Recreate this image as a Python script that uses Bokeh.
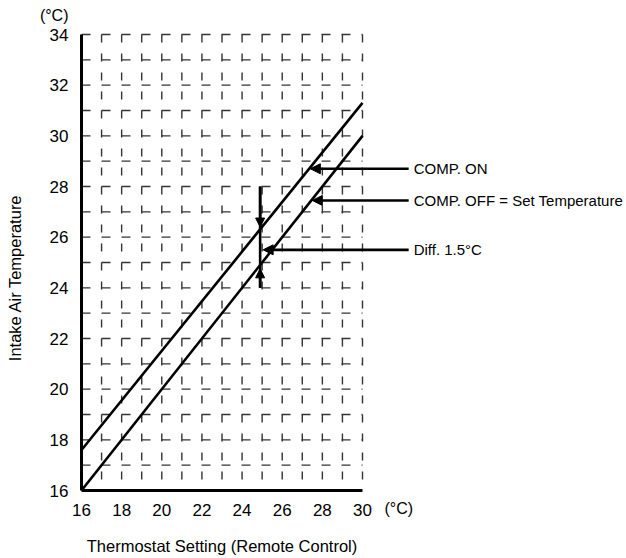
from bokeh.plotting import figure
from bokeh.models import Range1d, FixedTicker, Arrow, NormalHead, Label
from bokeh.embed import file_html
from bokeh.resources import INLINE

# ---- data ----
x_ticks = [16, 18, 20, 22, 24, 26, 28, 30]
y_ticks = [16, 18, 20, 22, 24, 26, 28, 30, 32, 34]
x_grid = list(range(17, 31))
y_grid = list(range(17, 35))
x_lo, x_hi = 16, 30
y_lo, y_hi = 16, 34

off_x = [16, 30]          # COMP. OFF = set temperature
off_y = [16, 30]
on_x = [16, 30]           # COMP. ON
on_y = [17.6, 31.3]

diff_x = [24.9, 24.9]     # differential marker
diff_y = [24, 28]
diff_head_top = 26.4
diff_head_bottom = 24.75

ann_texts = ["COMP. ON", "COMP. OFF = Set Temperature", "Diff. 1.5°C"]
ann_y = [28.7, 27.45, 25.5]
ann_tip_x = [27.4, 27.5, 25.05]
ann_tail_x = 32.3
ann_text_x = 32.55

x_title = "Thermostat Setting (Remote Control)"
y_title = "Intake Air Temperature"
unit = "(°C)"

FONT = "Liberation Sans"

# canvas layout: frame fills the whole canvas; axes are pinned at the data origin
W, H = 624, 556
FX0, FX1 = 81, 362     # pixel columns of x=16 and x=30
FY0, FY1 = 490, 34     # pixel rows of y=16 and y=34
sx = (FX1 - FX0) / (x_hi - x_lo)
sy = (FY0 - FY1) / (y_hi - y_lo)
xr = Range1d(x_lo - FX0 / sx, x_lo + (W - FX0) / sx)
yr = Range1d(y_lo - (H - FY0) / sy, y_hi + FY1 / sy)

p = figure(width=W, height=H, x_range=xr, y_range=yr,
           output_backend="svg", toolbar_location=None,
           min_border=0, min_border_left=0, min_border_right=0,
           min_border_top=0, min_border_bottom=0)
p.outline_line_color = None
p.background_fill_color = "white"
p.xgrid.visible = False
p.ygrid.visible = False

# axes
for ax in (p.xaxis, p.yaxis):
    ax.axis_line_width = 3
    ax.axis_line_color = "black"
    ax.major_tick_line_color = None
    ax.minor_tick_line_color = None
    ax.major_tick_out = 0
    ax.major_tick_in = 0
    ax.major_label_text_font = FONT
    ax.major_label_text_font_size = "17px"
    ax.major_label_text_color = "black"
    ax.major_label_standoff = 13
p.xaxis.ticker = FixedTicker(ticks=x_ticks)
p.yaxis.ticker = FixedTicker(ticks=y_ticks)
p.xaxis.bounds = (x_lo, x_hi)
p.yaxis.bounds = (y_lo, y_hi)
p.xaxis.fixed_location = y_lo
p.yaxis.fixed_location = x_lo

# dashed grid
n_x, n_y = len(x_grid), len(y_grid)
p.segment(x0=x_grid, y0=[y_hi] * n_x, x1=x_grid, y1=[y_lo] * n_x,
          line_color="#333333", line_width=1.4, line_dash="8 11")
p.segment(x0=[x_lo] * n_y, y0=y_grid, x1=[x_hi] * n_y, y1=y_grid,
          line_color="#333333", line_width=1.4, line_dash="9 11")

# lines
p.line(off_x, off_y, line_width=2.6, color="black")
p.line(on_x, on_y, line_width=2.6, color="black")
p.line(diff_x, diff_y, line_width=2.6, color="black")

# differential arrowheads
for y_start, y_end in ((diff_y[1], diff_head_top), (diff_y[0], diff_head_bottom)):
    p.add_layout(Arrow(end=NormalHead(size=9, fill_color="black", line_color="black", line_width=1),
                       x_start=diff_x[0], y_start=y_start, x_end=diff_x[0], y_end=y_end,
                       line_width=2.6, line_color="black"))

# annotation arrows and texts
for t, yy, tip in zip(ann_texts, ann_y, ann_tip_x):
    p.add_layout(Arrow(end=NormalHead(size=10, fill_color="black", line_color="black", line_width=1),
                       x_start=ann_tail_x, y_start=yy, x_end=tip, y_end=yy,
                       line_width=2.6, line_color="black"))
    p.add_layout(Label(x=ann_text_x, y=yy, text=t, text_baseline="middle", text_align="left",
                       text_font=FONT, text_font_size="15px", text_color="black"))

# axis titles and units
p.add_layout(Label(x=(x_lo + x_hi) / 2, y=y_lo, y_offset=-55, text=x_title,
                   text_baseline="middle", text_align="center",
                   text_font=FONT, text_font_size="16.5px", text_color="black"))
p.add_layout(Label(x=x_lo, y=24.4, x_offset=-67, text=y_title, angle=90, angle_units="deg",
                   text_baseline="middle", text_align="center",
                   text_font=FONT, text_font_size="16.5px", text_color="black"))
p.add_layout(Label(x=x_hi, y=y_lo, x_offset=22, y_offset=-18, text=unit,
                   text_baseline="middle", text_align="left",
                   text_font=FONT, text_font_size="16px", text_color="black"))
p.add_layout(Label(x=x_lo, y=y_hi, x_offset=-13, y_offset=19, text=unit,
                   text_baseline="middle", text_align="right",
                   text_font=FONT, text_font_size="16px", text_color="black"))

open("out.html", "w").write(file_html(p, INLINE))
